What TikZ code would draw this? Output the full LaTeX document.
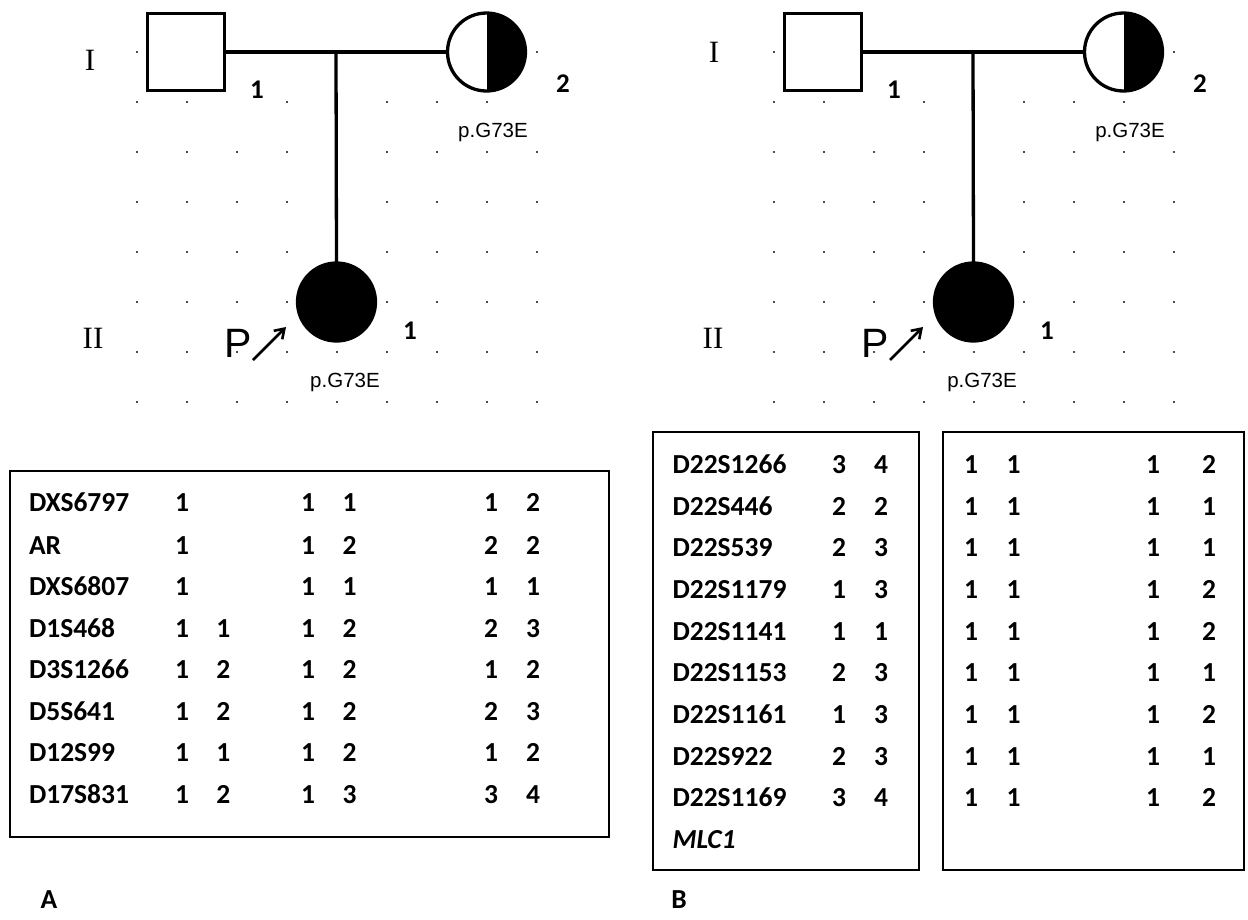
\documentclass[tikz,border=0pt]{standalone}
\usepackage{fontspec}
\setmainfont{Carlito}
\newfontfamily\arialf{Liberation Sans}
\newfontfamily\timesf{Liberation Serif}
\newfontfamily\calf{Carlito}
\usetikzlibrary{arrows.meta}

\tikzset{
  every node/.style={inner sep=0pt, outer sep=0pt},
  pedline/.style={line width=3.3pt},
  male/.style={draw, line width=3.3pt, fill=white, rectangle, minimum size=77pt},
  female/.style={draw, line width=3.3pt, fill=white, circle, minimum size=78pt},
  carrier/.style={female, path picture={\fill[black] (path picture bounding box.south) rectangle (path picture bounding box.north east);}},
  affected/.style={female, fill=black},
  idnum/.style={font=\calf\bfseries\fontsize{27}{27}\selectfont, text height=17pt, text depth=0pt},
  mut/.style={font=\arialf\fontsize{20.5}{20.5}\selectfont, text height=14.5pt, text depth=0pt},
  probandP/.style={font=\arialf\fontsize{41}{41}\selectfont, text height=29.5pt, text depth=0pt},
  gen/.style={font=\timesf\fontsize{31}{31}\selectfont, text height=20.5pt, text depth=0pt},
  cell/.style={font=\calf\bfseries\fontsize{27.5}{27.5}\selectfont, text height=17.4pt, text depth=0pt},
  marker/.style={cell, anchor=west},
  tbox/.style={draw, line width=2pt},
  griddot/.style={fill=black!70},
  probarrow/.style={line width=2.8pt, -{Straight Barb[length=9pt,width=12pt,line width=2.6pt]}},
}

\newcommand{\pedpanel}[2]{%
  \begin{scope}[xshift=#2]
    \foreach \j in {0,2,3,4,5,6,7}{\foreach \i in {0,...,8}{\fill[griddot] (136.2+50*\i,51.2+50*\j) rectangle ++(1.6,1.6);}}
    \foreach \i in {0,1,3,4,5,6,7}{\fill[griddot] (136.2+50*\i,101.2) rectangle ++(1.6,1.6);}
    \node[male] (#1m) at (186,52) {};
    \node[carrier] (#1f) at (486.5,52) {};
    \node[affected] (#1c) at (336.5,302) {};
    \draw[pedline] (#1m.east) -- coordinate (#1mid) (#1f.west);
    \draw[pedline] (#1mid) -- (#1c.north);
    \node[idnum] (#1mn) at (257,90) {1};
    \node[idnum] (#1fn) at (563,84) {2};
    \node[mut] (#1fg) at (493,130) {p.G73E};
    \node[probandP] (#1P) at (238,343) {P};
    \coordinate (#1a1) at (253,360);
    \coordinate (#1a2) at (286,327);
    \draw[probarrow] (#1a1) -- (#1a2);
    \node[idnum] (#1cn) at (410,331) {1};
    \node[mut] (#1cg) at (345,380) {p.G73E};
  \end{scope}}

\begin{document}
\begin{tikzpicture}[x=1pt,y=-1pt]
\useasboundingbox (0,0) rectangle (1248,919);
\fill[white] (0,0) rectangle (1248,919);

% pedigrees
\pedpanel{A}{0pt}
\pedpanel{B}{637pt}
\node[gen] (AgI) at (90,60) {I};
\node[gen] (AgII) at (93,338) {II};
\node[gen] (BgI) at (714,52) {I};
\node[gen] (BgII) at (713,338) {II};

% table A
\node[tbox, minimum width=599pt, minimum height=366pt] (tabA) at (309.5,654) {};
\foreach \name/\a/\b/\c/\d/\e/\f/\y in {
  DXS6797/1//1/1/1/2/503,
  AR/1//1/2/2/2/546,
  DXS6807/1//1/1/1/1/587,
  D1S468/1/1/1/2/2/3/629,
  D3S1266/1/2/1/2/1/2/670,
  D5S641/1/2/1/2/2/3/712,
  D12S99/1/1/1/2/1/2/753,
  D17S831/1/2/1/3/3/4/795}{
  \node[marker] (A-\name) at (29,\y) {\name};
  \node[cell] (A-\name-a) at (182,\y) {\a};
  \node[cell] (A-\name-b) at (223.4,\y) {\b};
  \node[cell] (A-\name-c) at (308,\y) {\c};
  \node[cell] (A-\name-d) at (349.6,\y) {\d};
  \node[cell] (A-\name-e) at (491,\y) {\e};
  \node[cell] (A-\name-f) at (533,\y) {\f};
}

% tables B
\node[tbox, minimum width=266pt, minimum height=438pt] (tabBl) at (786,651) {};
\node[tbox, minimum width=301pt, minimum height=438pt] (tabBr) at (1093.5,651) {};
\foreach \name/\a/\b/\e/\f/\y in {
  D22S1266/3/4/1/2/465,
  D22S446/2/2/1/1/507,
  D22S539/2/3/1/1/548,
  D22S1179/1/3/1/2/590,
  D22S1141/1/1/1/2/632,
  D22S1153/2/3/1/1/673,
  D22S1161/1/3/1/2/715,
  D22S922/2/3/1/1/757,
  D22S1169/3/4/1/2/798}{
  \node[marker] (B-\name) at (672.5,\y) {\name};
  \node[cell] (B-\name-a) at (839,\y) {\a};
  \node[cell] (B-\name-b) at (881,\y) {\b};
  \node[cell] (B-\name-c) at (971,\y) {1};
  \node[cell] (B-\name-d) at (1013.5,\y) {1};
  \node[cell] (B-\name-e) at (1153,\y) {\e};
  \node[cell] (B-\name-f) at (1209,\y) {\f};
}
\node[marker, font=\calf\bfseries\itshape\fontsize{27.5}{27.5}\selectfont] (B-MLC1) at (672.5,840) {MLC1};

% panel labels
\node[cell] (labA) at (49,900) {A};
\node[cell] (labB) at (679,900) {B};
\end{tikzpicture}
\end{document}
